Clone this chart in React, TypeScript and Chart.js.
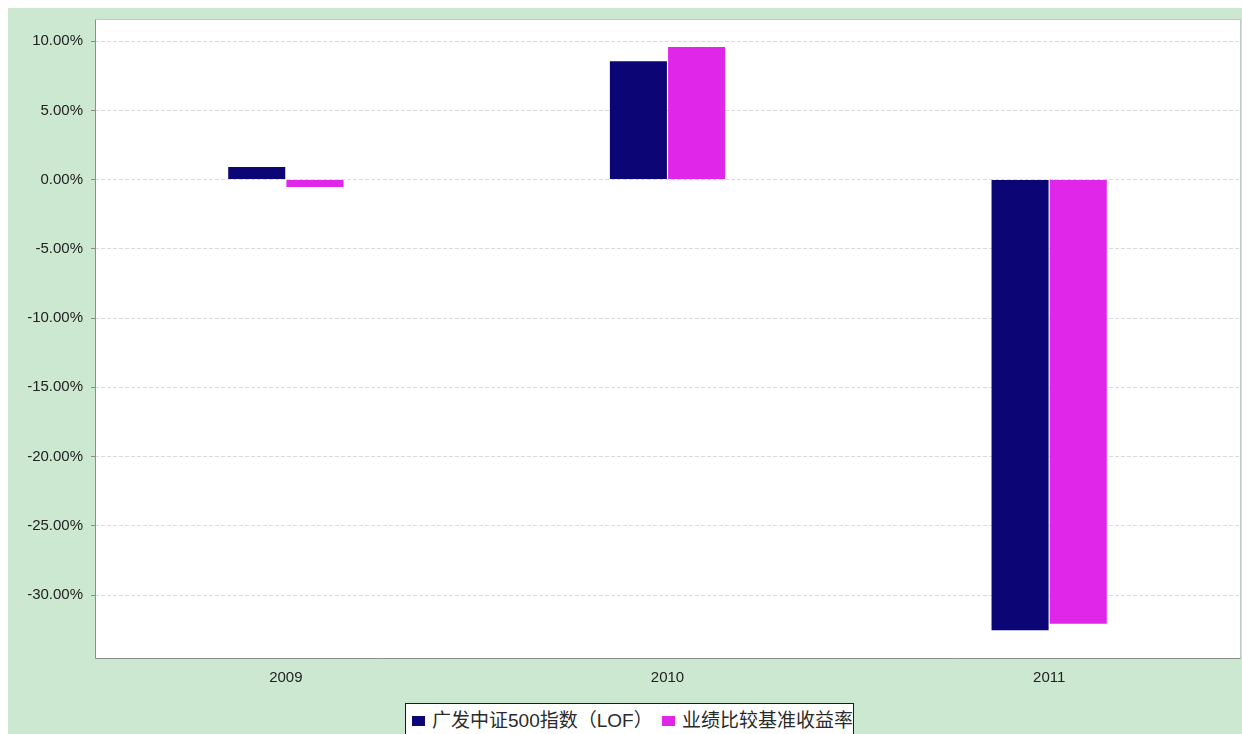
import React, { useEffect, useRef } from "react";
import { Chart, registerables } from "chart.js";

Chart.register(...registerables);

const categories = ["2009", "2010", "2011"];
const fundLabel = "广发中证500指数（LOF）";
const benchLabel = "业绩比较基准收益率";
const fundValues = [0.92, 8.54, -32.54];
const benchValues = [-0.53, 9.58, -32.08];
const yTickValues = [10, 5, 0, -5, -10, -15, -20, -25, -30];
const yMin = -34.55;
const yMax = 11.6;

const fundColor = "#0b0575";
const benchColor = "#e026e8";
const bgGreen = "#cde8d0";

const plotPlugin = {
  id: "plotFrame",
  beforeDraw(chart: any) {
    const { ctx, chartArea } = chart;
    ctx.save();
    ctx.fillStyle = "#ffffff";
    ctx.fillRect(chartArea.left, chartArea.top, chartArea.right - chartArea.left, chartArea.bottom - chartArea.top);
    ctx.restore();
  },
  afterDraw(chart: any) {
    const { ctx, chartArea } = chart;
    const l = chartArea.left + 0.5;
    const r = chartArea.right + 0.5;
    const t = chartArea.top + 0.5;
    const b = chartArea.bottom + 0.5;
    ctx.save();
    ctx.lineWidth = 1;
    ctx.strokeStyle = "#c4c4c4";
    ctx.beginPath();
    ctx.moveTo(l, t);
    ctx.lineTo(r, t);
    ctx.lineTo(r, b);
    ctx.stroke();
    ctx.strokeStyle = "#8c8c8c";
    ctx.beginPath();
    ctx.moveTo(l, t);
    ctx.lineTo(l, b);
    ctx.lineTo(r, b);
    ctx.stroke();
    ctx.restore();
  },
};

export default function App() {
  const canvasRef = useRef<HTMLCanvasElement | null>(null);

  useEffect(() => {
    const canvas = canvasRef.current;
    if (!canvas) return;
    const chart = new Chart(canvas, {
      type: "bar",
      data: {
        labels: categories,
        datasets: [
          {
            label: fundLabel,
            data: fundValues,
            backgroundColor: fundColor,
            borderWidth: 0,
            barPercentage: 0.98,
            categoryPercentage: 0.305,
          },
          {
            label: benchLabel,
            data: benchValues,
            backgroundColor: benchColor,
            borderWidth: 0,
            barPercentage: 0.98,
            categoryPercentage: 0.305,
          },
        ],
      },
      options: {
        animation: false,
        responsive: false,
        devicePixelRatio: 1,
        layout: { padding: { left: 0, right: 2, top: 11, bottom: 46 } },
        plugins: {
          legend: { display: false },
          tooltip: { enabled: false },
        },
        scales: {
          x: {
            offset: true,
            grid: { display: false, drawTicks: false },
            border: { display: false },
            ticks: {
              padding: 11,
              color: "#222222",
              font: { family: "'Liberation Sans', Arial, sans-serif", size: 15 },
            },
            afterFit(scale: any) {
              scale.height = 30;
              scale.paddingLeft = 0;
              scale.paddingRight = 0;
            },
          },
          y: {
            min: yMin,
            max: yMax,
            grid: {
              color: "#dadada",
              lineWidth: 1,
              drawTicks: true,
              tickLength: 4,
              tickColor: "#8c8c8c",
              tickBorderDash: [],
            },
            border: { display: false, dash: [4, 2] },
            ticks: {
              padding: 8,
              color: "#222222",
              font: { family: "'Liberation Sans', Arial, sans-serif", size: 15 },
              callback: (v: any) => Number(v).toFixed(2) + "%",
            },
            afterBuildTicks(scale: any) {
              scale.ticks = yTickValues.map((v) => ({ value: v }));
            },
            afterFit(scale: any) {
              scale.width = 87;
              scale.paddingTop = 0;
              scale.paddingBottom = 0;
            },
          },
        },
      },
      plugins: [plotPlugin],
    } as any);
    return () => chart.destroy();
  }, []);

  const textStyle: React.CSSProperties = {
    position: "absolute",
    top: 7,
    fontFamily: "'Liberation Sans', 'Noto Sans CJK SC', sans-serif",
    fontSize: 19,
    color: "#2a2a2a",
    whiteSpace: "nowrap",
    lineHeight: "20px",
  };
  const box = (c: string, left: number): React.CSSProperties => ({
    position: "absolute",
    left,
    top: 12,
    width: 13,
    height: 10,
    background: c,
  });

  return (
    <div
      style={{
        position: "fixed",
        left: 8,
        top: 8,
        width: 1234,
        height: 726,
        background: bgGreen,
        overflow: "hidden",
      }}
    >
      <canvas ref={canvasRef} width={1234} height={726} style={{ display: "block", width: 1234, height: 726 }} />
      <div
        style={{
          position: "absolute",
          left: 397,
          top: 695,
          width: 447,
          height: 60,
          background: "#ffffff",
          border: "1px solid #1a1a1a",
          boxSizing: "content-box",
        }}
      >
        <span style={box(fundColor, 6)} />
        <span style={{ ...textStyle, left: 26 }}>{fundLabel}</span>
        <span style={box(benchColor, 256)} />
        <span style={{ ...textStyle, left: 276 }}>{benchLabel}</span>
      </div>
    </div>
  );
}
